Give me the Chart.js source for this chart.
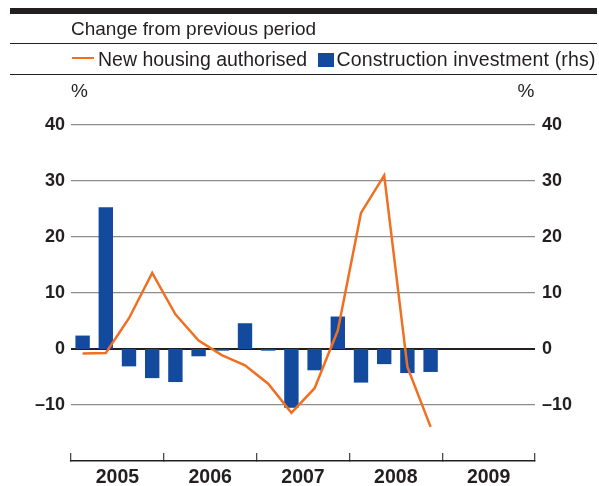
<!DOCTYPE html>
<html>
<head>
<meta charset="utf-8">
<script src="https://cdn.jsdelivr.net/npm/chart.js@4"></script>
<style>
  body { margin: 0; background: #fff; }
  #wrap { position: relative; width: 599px; height: 486px; font-family: "Liberation Sans", Arial, sans-serif; color: #231f20; }
  #chart { position: absolute; left: 0; top: 0; }
  .rule { position: absolute; left: 10px; width: 587px; background: #231f20; }
  .txt { position: absolute; font-size: 19px; line-height: 19px; white-space: nowrap; }
  .leg { font-size: 19.5px; }
  .key { position: absolute; }
</style>
</head>
<body>
<div id="wrap">
  <canvas id="chart" width="599" height="486"></canvas>
  <div class="rule" style="top:8px;height:6px"></div>
  <div class="txt" style="left:71px;top:19px">Change from previous period</div>
  <div class="rule" style="top:42.5px;height:1.3px"></div>
  <div class="key" style="left:71.5px;top:56.5px;width:22px;height:2.5px;background:#f07022"></div>
  <div class="txt leg" style="left:98px;top:50px">New housing authorised</div>
  <div class="key" style="left:318px;top:53px;width:16px;height:14px;background:#134a9e"></div>
  <div class="txt leg" style="left:336.5px;top:50px;letter-spacing:0.15px">Construction investment (rhs)</div>
  <div class="rule" style="top:73.5px;height:1.3px"></div>
  <div class="txt" style="left:71px;top:80.5px">%</div>
  <div class="txt" style="right:64.5px;top:80.5px">%</div>
</div>
<script>
// quarterly data, 2005 Q1 - 2008 Q4 (2009 left empty)
const quarters = [
  "2005 Q1", "2005 Q2", "2005 Q3", "2005 Q4",
  "2006 Q1", "2006 Q2", "2006 Q3", "2006 Q4",
  "2007 Q1", "2007 Q2", "2007 Q3", "2007 Q4",
  "2008 Q1", "2008 Q2", "2008 Q3", "2008 Q4",
  "2009 Q1", "2009 Q2", "2009 Q3", "2009 Q4"
];
const years = ["2005", "2006", "2007", "2008", "2009"];
const housing = [-0.8, -0.7, 5.5, 13.6, 6.2, 1.5, -1.1, -2.9, -6.2, -11.4, -7.0, 3.3, 24.3, 31.0, -3.2, -13.9];
const construction = [2.4, 25.3, -3.1, -5.2, -5.9, -1.3, -0.3, 4.6, -0.3, -10.5, -3.8, 5.8, -6.0, -2.7, -4.3, -4.1];
const yTicks = [-10, 0, 10, 20, 30, 40];

const ink = "#231f20";
const grey = "#8d8d8d";
const orange = "#f07022";
const blue = "#134a9e";
const family = '"Liberation Sans", Arial, sans-serif';

function tickText(v) {
    return v < 0 ? "\u2013" + Math.abs(v) : String(v);
}

function valueAxis(position, pad, width, showGrid) {
    return {
        position: position,
        min: -20,
        max: 40,
        afterBuildTicks: function (s) { s.ticks = yTicks.map(v => ({ value: v })); },
        afterFit: function (s) { s.width = width; },
        border: { display: false },
        grid: {
            display: showGrid,
            drawTicks: false,
            color: c => c.tick.value === 0 ? ink : grey,
            lineWidth: c => c.tick.value === 0 ? 2 : 1.3
        },
        ticks: {
            padding: pad,
            color: ink,
            font: { family: family, size: 18, weight: "bold" },
            callback: tickText
        }
    };
}

new Chart(document.getElementById("chart"), {
    data: {
        labels: quarters,
        datasets: [
            {
                type: "line",
                label: "New housing authorised",
                data: housing,
                borderColor: orange,
                borderWidth: 2.5,
                pointRadius: 0,
                tension: 0,
                xAxisID: "x",
                yAxisID: "y",
                order: 0
            },
            {
                type: "bar",
                label: "Construction investment (rhs)",
                data: construction,
                backgroundColor: blue,
                barPercentage: 0.62,
                categoryPercentage: 1,
                xAxisID: "x",
                yAxisID: "y1",
                order: 1
            }
        ]
    },
    options: {
        responsive: false,
        animation: false,
        layout: { padding: { top: 125 } },
        plugins: { legend: { display: false }, tooltip: { enabled: false } },
        scales: {
            x: { type: "category", display: false, offset: true },
            years: {
                type: "category",
                labels: years,
                position: "bottom",
                offset: true,
                afterFit: function (s) { s.height = 25; },
                border: { display: true, color: ink, width: 1.5 },
                grid: { offset: true, drawOnChartArea: false, drawTicks: true, tickLength: -8, color: "#4a4a4a", lineWidth: 1.3 },
                ticks: {
                    padding: 13,
                    maxRotation: 0,
                    autoSkip: false,
                    color: ink,
                    font: { family: family, size: 19.5, weight: "bold" }
                }
            },
            y: valueAxis("left", 6, 71, true),
            y1: valueAxis("right", 7, 64, false)
        }
    }
});
</script>
</body>
</html>
